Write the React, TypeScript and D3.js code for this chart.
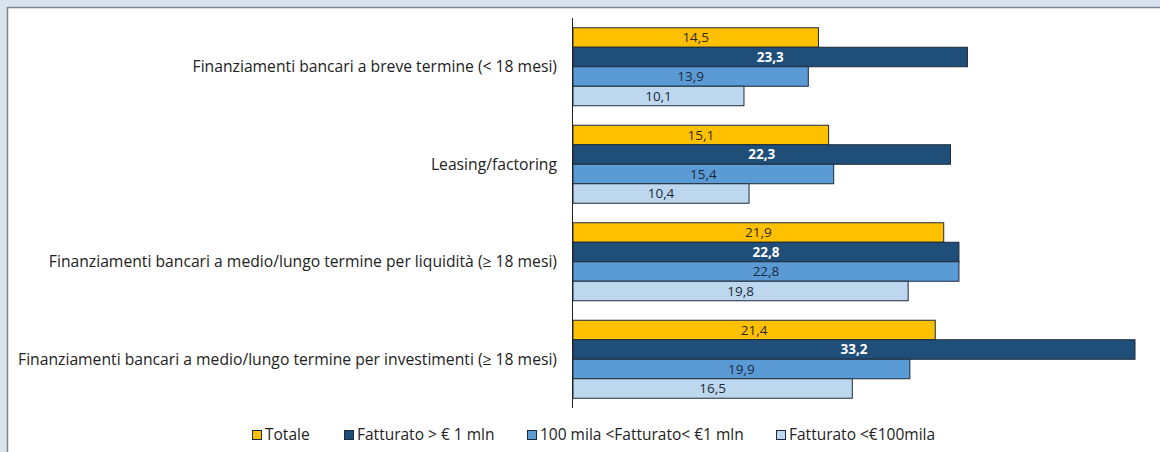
import React, {useEffect, useRef} from 'react';
import * as d3 from 'd3';

const categories = [
  'Finanziamenti bancari a breve termine (< 18 mesi)',
  'Leasing/factoring',
  'Finanziamenti bancari a medio/lungo termine per liquidità (≥ 18 mesi)',
  'Finanziamenti bancari a medio/lungo termine per investimenti (≥ 18 mesi)',
];
const seriesNames = [
  'Totale',
  'Fatturato > € 1 mln',
  '100 mila <Fatturato< €1 mln',
  'Fatturato <€100mila',
];
const totale = [14.5, 15.1, 21.9, 21.4];
const fatturatoOver1mln = [23.3, 22.3, 22.8, 33.2];
const fatturatoMid = [13.9, 15.4, 22.8, 19.9];
const fatturatoUnder100 = [10.1, 10.4, 19.8, 16.5];

const seriesValues = [totale, fatturatoOver1mln, fatturatoMid, fatturatoUnder100];
const colors = ['#FFC000', '#1F4E79', '#5B9BD5', '#BDD7EE'];
const textColors = ['#2b2b2b', '#ffffff', '#1b2a3a', '#1b2a3a'];

const W = 1160;
const H = 452;

const App: React.FC = () => {
  const svgRef = useRef<SVGSVGElement>(null);

  useEffect(() => {
    const svg = d3.select(svgRef.current);
    svg.selectAll('*').remove();
    const font = '"Open Sans", Lato, sans-serif';

    // background + panel
    svg.append('rect').attr('width', W).attr('height', H).attr('fill', '#dbe3ef');
    svg
      .append('rect')
      .attr('x', 7.5)
      .attr('y', 7.5)
      .attr('width', W + 10)
      .attr('height', H + 10)
      .attr('fill', '#ffffff')
      .attr('stroke', '#7d8794')
      .attr('stroke-width', 1.5);

    const x0 = 573;
    const x = d3.scaleLinear().domain([0, 33.2]).range([x0, 1135]);
    const y = d3
      .scaleBand<string>()
      .domain(categories)
      .range([18, 408])
      .paddingInner(0.2)
      .paddingOuter(0.1);
    const inner = d3
      .scaleBand<number>()
      .domain(d3.range(seriesNames.length))
      .range([0, y.bandwidth()]);

    const g = svg.append('g');
    categories.forEach((cat, ci) => {
      const row = g.append('g').attr('transform', `translate(0,${y(cat)})`);
      seriesValues.forEach((vals, si) => {
        const v = vals[ci];
        row
          .append('rect')
          .attr('x', x(0))
          .attr('y', inner(si))
          .attr('width', x(v) - x(0))
          .attr('height', inner.bandwidth())
          .attr('fill', colors[si])
          .attr('stroke', '#1d2b3a')
          .attr('stroke-width', 1);
        row
          .append('text')
          .attr('x', (x(0) + x(v)) / 2)
          .attr('y', inner(si) + inner.bandwidth() / 2)
          .attr('dy', '0.35em')
          .attr('text-anchor', 'middle')
          .attr('font-family', font)
          .attr('font-size', 13.5)
          .attr('font-weight', si === 1 ? 'bold' : 'normal')
          .attr('fill', textColors[si])
          .text(d3.format('.1f')(v).replace('.', ','));
      });
    });

    // category labels
    svg
      .append('g')
      .selectAll('text')
      .data(categories)
      .enter()
      .append('text')
      .attr('x', 557)
      .attr('y', (d) => y(d) + y.bandwidth() / 2)
      .attr('dy', '0.35em')
      .attr('text-anchor', 'end')
      .attr('font-family', font)
      .attr('font-size', 15.7)
      .attr('fill', '#222')
      .text((d) => d);

    // axis line
    svg
      .append('line')
      .attr('x1', x0 - 0.5)
      .attr('x2', x0 - 0.5)
      .attr('y1', 18)
      .attr('y2', 408)
      .attr('stroke', '#222')
      .attr('stroke-width', 1);

    // legend
    const legendX = [252, 344, 527, 776];
    const legend = svg.append('g');
    seriesNames.forEach((name, i) => {
      legend
        .append('rect')
        .attr('x', legendX[i] + 0.5)
        .attr('y', 430.5)
        .attr('width', 9)
        .attr('height', 9)
        .attr('fill', colors[i])
        .attr('stroke', '#1d2b3a');
      legend
        .append('text')
        .attr('x', legendX[i] + 13)
        .attr('y', 435)
        .attr('dy', '0.35em')
        .attr('font-family', font)
        .attr('font-size', 15.5)
        .attr('fill', '#222')
        .text(name);
    });
  }, []);

  return (
    <div style={{position: 'absolute', left: 0, top: 0}}>
      <svg ref={svgRef} width={W} height={H} style={{display: 'block'}}></svg>
    </div>
  );
};

export default App;
